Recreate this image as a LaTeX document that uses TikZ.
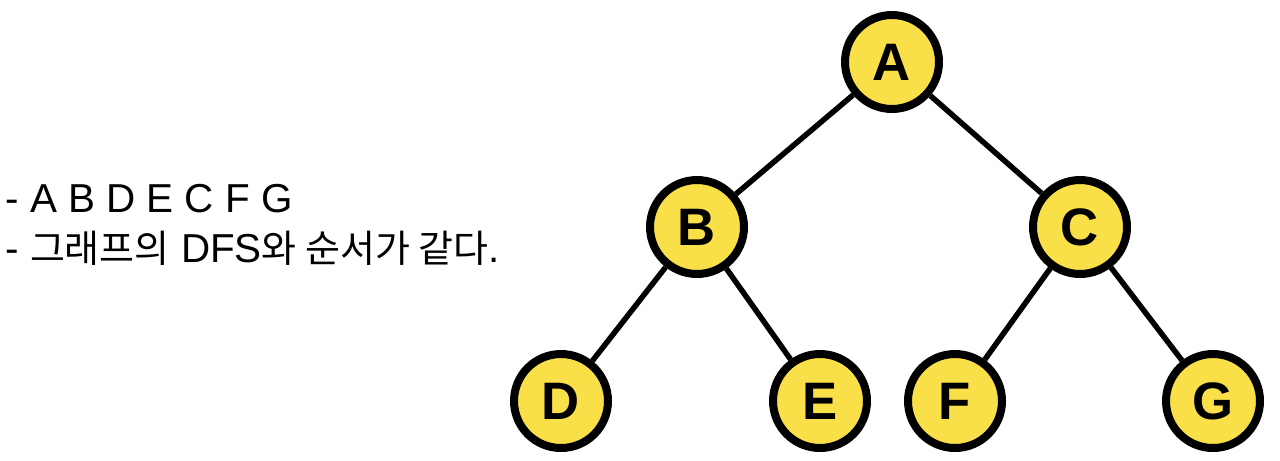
\documentclass[tikz,border=0pt]{standalone}
\usepackage{fontspec}
\setmainfont{Liberation Sans}
\newfontfamily\krfont[Scale=0.94]{Noto Sans CJK KR}
\usepackage{tikz}
\definecolor{NodeYellow}{RGB}{249, 223, 72}
\tikzset{
  vert/.style={circle, draw=black, fill=NodeYellow, line width=0.16cm,
    minimum size=1.88cm, inner sep=0pt, font=\fontsize{30}{30}\selectfont\bfseries},
  edge/.style={line width=0.11cm},
  note/.style={anchor=base west, inner sep=0pt, font=\fontsize{23}{23}\selectfont}
}
\begin{document}
\begin{tikzpicture}[x=0.02cm, y=-0.02cm]
    \useasboundingbox (0,0) rectangle (1280,460);

    % tree vertices
    \node[vert] (A) at (892,62) {A};
    \node[vert] (B) at (697,227) {B};
    \node[vert] (C) at (1080,227) {C};
    \node[vert] (D) at (561,401) {D};
    \node[vert] (E) at (820,401) {E};
    \node[vert] (F) at (955,401) {F};
    \node[vert] (G) at (1213,401) {G};

    \foreach \u/\v in {A/B, A/C, B/D, B/E, C/F, C/G} {
      \draw[edge] (\u) -- (\v);
    }

    % visiting order
    \node[note] (order) at (5,212) {- A B D E C F G};
    \node[note] (remark) at (5,262) {- {\krfont 그래프의} DFS{\krfont 와 순서가 같다}.};
  \end{tikzpicture}
\end{document}
